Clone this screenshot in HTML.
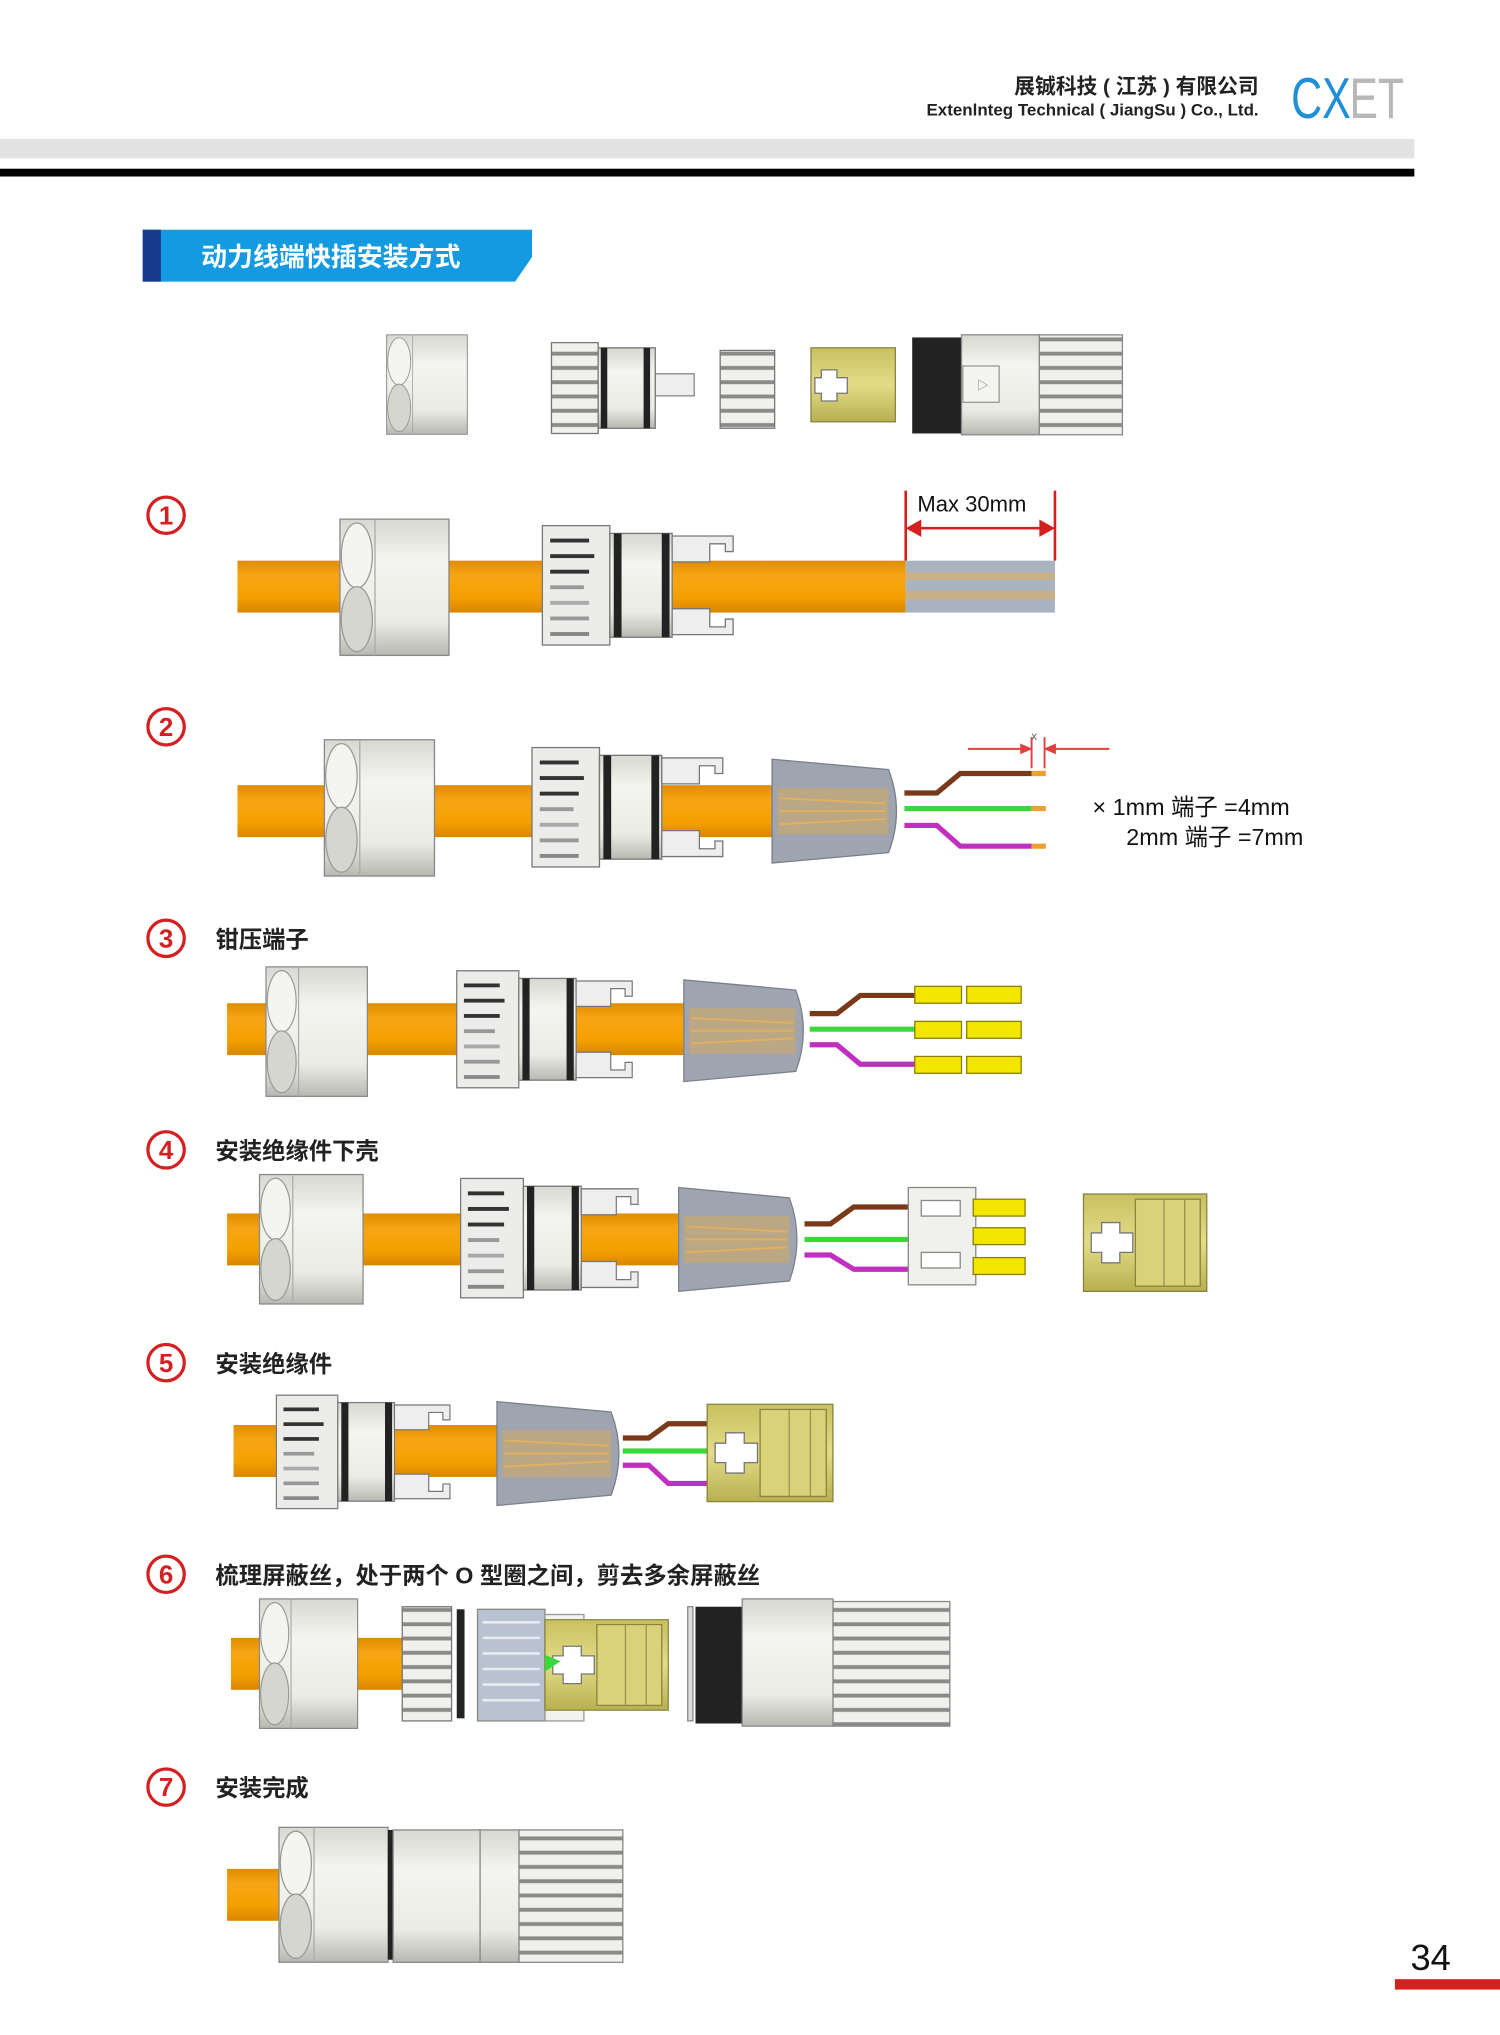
<!DOCTYPE html>
<html><head><meta charset="utf-8"><style>
html,body{margin:0;padding:0;background:#fff;}
svg{display:block;}
text{font-family:"Liberation Sans","Noto Sans CJK SC",sans-serif;}
</style></head><body>
<svg width="1500" height="2035" viewBox="0 0 1156 1568" preserveAspectRatio="none" xmlns="http://www.w3.org/2000/svg">
<defs>
<linearGradient id="mt" x1="0" y1="0" x2="0" y2="1"><stop offset="0" stop-color="#d8d8d2"/><stop offset=".3" stop-color="#f4f4f0"/><stop offset=".75" stop-color="#ecece6"/><stop offset="1" stop-color="#b8b8b2"/></linearGradient>
<linearGradient id="og" x1="0" y1="0" x2="0" y2="1"><stop offset="0" stop-color="#e08c00"/><stop offset=".3" stop-color="#f7a515"/><stop offset=".7" stop-color="#f5a000"/><stop offset="1" stop-color="#d98500"/></linearGradient>
<linearGradient id="yg" x1="0" y1="0" x2="0" y2="1"><stop offset="0" stop-color="#c8c060"/><stop offset=".5" stop-color="#e2dc88"/><stop offset="1" stop-color="#b8b050"/></linearGradient>
<pattern id="rib" width="10" height="11" patternUnits="userSpaceOnUse"><rect width="10" height="11" fill="#f0f0ec"/><rect y="7" width="10" height="3" fill="#8a8a8a"/></pattern>
<g id="nut">
<rect x="0" y="0" width="84" height="105" fill="url(#mt)" stroke="#888"/>
<ellipse cx="13" cy="28" rx="12" ry="25" fill="#f4f4f0" stroke="#999"/>
<ellipse cx="13" cy="77" rx="12" ry="25" fill="#d6d6d0" stroke="#999"/>
<line x1="27" y1="0" x2="27" y2="105" stroke="#aaa"/>
</g>
<g id="gland">
<rect x="0" y="0" width="52" height="92" fill="#ececea" stroke="#777"/>
<rect x="6" y="10" width="30" height="3" fill="#333"/><rect x="6" y="22" width="34" height="3" fill="#333"/><rect x="6" y="34" width="30" height="3" fill="#333"/><rect x="6" y="46" width="26" height="3" fill="#999"/><rect x="6" y="58" width="30" height="3" fill="#aaa"/><rect x="6" y="70" width="30" height="3" fill="#999"/><rect x="6" y="82" width="30" height="3" fill="#888"/>
<rect x="52" y="6" width="48" height="80" fill="url(#mt)" stroke="#777"/>
<rect x="55" y="6" width="6" height="80" fill="#222"/><rect x="92" y="6" width="6" height="80" fill="#222"/>
<path d="M100,8 h47 v12 h-6 v-6 h-12 v14 h-29 z" fill="#eee" stroke="#777"/>
<path d="M100,84 h47 v-12 h-6 v6 h-12 v-14 h-29 z" fill="#eee" stroke="#777"/>
</g>
<g id="cone">
<path d="M0,0 L88,8 Q100,40 88,72 L0,80 Z" fill="#9ea5b0" stroke="#7a808a"/>
<rect x="4" y="22" width="84" height="36" fill="#c8a870" opacity=".7"/>
<path d="M6,30 L86,34 M6,40 L86,40 M6,50 L86,46" stroke="#e0b060" stroke-width="1.5"/>
</g>
<g id="conn">
<rect x="0" y="0" width="95" height="75" fill="url(#yg)" stroke="#8a8440"/>
<rect x="40" y="4" width="50" height="67" fill="#d8d278" stroke="#8a8440"/>
<path d="M14,22 h14 v8 h10 v15 h-10 v8 h-14 v-8 h-8 v-15 h8 z" fill="#fff" stroke="#777"/>
<line x1="62" y1="4" x2="62" y2="71" stroke="#9a9450"/><line x1="78" y1="4" x2="78" y2="71" stroke="#9a9450"/>
</g>
<g id="term"><rect x="0" y="0" width="36" height="13" fill="#f2e600" stroke="#8a8000"/><rect x="40" y="0" width="42" height="13" fill="#f2e600" stroke="#8a8000"/></g>
</defs>

<!-- header -->
<text x="970" y="72" text-anchor="end" font-size="16" font-weight="bold" fill="#222">展铖科技 ( 江苏 ) 有限公司</text>
<text x="970" y="89" text-anchor="end" font-size="12.5" font-weight="bold" fill="#222" textLength="256" lengthAdjust="spacingAndGlyphs">Extenlnteg Technical ( JiangSu ) Co., Ltd.</text>
<text x="995" y="91" font-size="44" fill="#1f8fd8" textLength="46" lengthAdjust="spacingAndGlyphs">CX</text>
<text x="1040" y="91" font-size="44" fill="#b8b8b8" textLength="42" lengthAdjust="spacingAndGlyphs">ET</text>
<rect x="0" y="107" width="1090" height="15" fill="#e2e2e2"/>
<rect x="0" y="130" width="1090" height="6" fill="#000"/>

<!-- title -->
<path d="M110,177 H410 V198 L397,217 H110 Z" fill="#139ae0"/>
<rect x="110" y="177" width="14" height="40" fill="#173a8e"/>
<text x="155" y="205" font-size="20" font-weight="bold" fill="#fff">动力线端快插安装方式</text>

<!-- exploded components -->
<use href="#nut" transform="translate(298,258) scale(0.74,0.73)"/>
<rect x="505" y="288" width="30" height="17" fill="#eee" stroke="#888"/>
<rect x="425" y="264" width="36" height="70" fill="url(#rib)" stroke="#777"/>
<rect x="461" y="268" width="44" height="62" fill="url(#mt)" stroke="#777"/>
<rect x="463" y="268" width="5" height="62" fill="#222"/><rect x="496" y="268" width="5" height="62" fill="#222"/>
<rect x="555" y="270" width="42" height="60" fill="url(#rib)" stroke="#777"/>
<rect x="625" y="268" width="65" height="57" fill="url(#yg)" stroke="#8a8440"/>
<path d="M633,285 h12 v6 h8 v12 h-8 v6 h-12 v-6 h-5 v-12 h5z" fill="#fff" stroke="#777"/>
<rect x="703" y="260" width="38" height="74" fill="#222"/>
<rect x="741" y="258" width="60" height="77" fill="url(#mt)" stroke="#888"/>
<rect x="742" y="282" width="28" height="28" fill="#f4f4f0" stroke="#999"/>
<text x="753" y="300" font-size="9" fill="#777">▷</text>
<rect x="801" y="258" width="64" height="77" fill="url(#rib)" stroke="#888"/>

<!-- step circles -->
<g fill="none" stroke="#d42020" stroke-width="2.5">
<circle cx="128" cy="397" r="14"/><circle cx="128" cy="560" r="14"/><circle cx="128" cy="723" r="14"/><circle cx="128" cy="886" r="14"/><circle cx="128" cy="1050" r="14"/><circle cx="128" cy="1213" r="14"/><circle cx="128" cy="1377" r="14"/>
</g>
<g fill="#d42020" font-size="20" font-weight="bold" text-anchor="middle">
<text x="128" y="404">1</text><text x="128" y="567">2</text><text x="128" y="730">3</text><text x="128" y="893">4</text><text x="128" y="1057">5</text><text x="128" y="1220">6</text><text x="128" y="1384">7</text>
</g>
<g font-size="18" font-weight="bold" fill="#222">
<text x="166" y="730">钳压端子</text>
<text x="166" y="893">安装绝缘件下壳</text>
<text x="166" y="1057">安装绝缘件</text>
<text x="166" y="1220">梳理屏蔽丝，处于两个 O 型圈之间，剪去多余屏蔽丝</text>
<text x="166" y="1384">安装完成</text>
</g>

<!-- row1 -->
<rect x="183" y="432" width="515" height="40" fill="url(#og)"/>
<rect x="698" y="432" width="115" height="40" fill="#a9b3c0"/>
<rect x="698" y="441" width="115" height="6" fill="#c8b088"/><rect x="698" y="455" width="115" height="7" fill="#c8b088"/>
<use href="#nut" transform="translate(262,400)"/>
<use href="#gland" transform="translate(418,405)"/>
<g stroke="#d42020" stroke-width="2" fill="#d42020">
<line x1="698" y1="378" x2="698" y2="432"/><line x1="813" y1="378" x2="813" y2="432"/>
<line x1="706" y1="407" x2="805" y2="407"/>
<path d="M700,407 l9,-5 v10 z"/><path d="M811,407 l-9,-5 v10 z"/>
</g>
<text x="707" y="394" font-size="17" fill="#111">Max 30mm</text>

<!-- row2 -->
<rect x="183" y="605" width="412" height="40" fill="url(#og)"/>
<use href="#nut" transform="translate(250,570) scale(1.01,1)"/>
<use href="#gland" transform="translate(410,576)"/>
<use href="#cone" transform="translate(595,585) scale(1.02,1)"/>
<g fill="none" stroke-width="4">
<path d="M697,611 H722 L740,596 H795" stroke="#7a3a1a"/>
<path d="M697,623 H795" stroke="#3ad83a"/>
<path d="M697,636 H722 L740,652 H795" stroke="#c030c0"/>
<path d="M795,596 H806 M795,623 H806 M795,652 H806" stroke="#f0a030"/>
</g>
<g stroke="#e04040" stroke-width="1.5" fill="#e04040">
<line x1="795" y1="568" x2="795" y2="592"/><line x1="805" y1="568" x2="805" y2="592"/>
<line x1="746" y1="577" x2="793" y2="577"/><line x1="807" y1="577" x2="855" y2="577"/>
<path d="M794,577 l-7,-3 v6z"/><path d="M806,577 l7,-3 v6z"/>
</g>
<text x="797" y="570" font-size="9" fill="#666" text-anchor="middle">x</text>
<text x="842" y="628" font-size="18" fill="#111">×  1mm 端子 =4mm</text>
<text x="868" y="651" font-size="18" fill="#111">2mm 端子 =7mm</text>

<!-- row3 -->
<rect x="175" y="773" width="352" height="40" fill="url(#og)"/>
<use href="#nut" transform="translate(205,745) scale(0.93,0.95)"/>
<use href="#gland" transform="translate(352,748) scale(0.92,0.98)"/>
<use href="#cone" transform="translate(527,755) scale(0.98,0.98)"/>
<g fill="none" stroke-width="4">
<path d="M624,781 H645 L663,767 H705" stroke="#7a3a1a"/>
<path d="M624,793 H705" stroke="#3ad83a"/>
<path d="M624,805 H645 L663,820 H705" stroke="#c030c0"/>
</g>
<use href="#term" transform="translate(705,760)"/>
<use href="#term" transform="translate(705,787)"/>
<use href="#term" transform="translate(705,814)"/>

<!-- row4 -->
<rect x="175" y="935" width="348" height="40" fill="url(#og)"/>
<use href="#nut" transform="translate(200,905) scale(0.95,0.95)"/>
<use href="#gland" transform="translate(355,908) scale(0.93,1)"/>
<use href="#cone" transform="translate(523,915) scale(0.97,1)"/>
<g fill="none" stroke-width="4">
<path d="M620,943 H640 L658,930 H705" stroke="#7a3a1a"/>
<path d="M620,955 H705" stroke="#3ad83a"/>
<path d="M620,967 H640 L658,978 H705" stroke="#c030c0"/>
</g>
<rect x="700" y="915" width="52" height="75" fill="#f0f0ec" stroke="#888"/>
<rect x="710" y="925" width="30" height="12" fill="#fff" stroke="#888"/><rect x="710" y="965" width="30" height="12" fill="#fff" stroke="#888"/>
<rect x="750" y="924" width="40" height="13" fill="#f2e600" stroke="#8a8000"/>
<rect x="750" y="946" width="40" height="13" fill="#f2e600" stroke="#8a8000"/>
<rect x="750" y="969" width="40" height="13" fill="#f2e600" stroke="#8a8000"/>
<use href="#conn" transform="translate(835,920)"/>

<!-- row5 -->
<rect x="180" y="1098" width="203" height="40" fill="url(#og)"/>
<use href="#gland" transform="translate(213,1075) scale(0.91,0.95)"/>
<use href="#cone" transform="translate(383,1080)"/>
<g fill="none" stroke-width="4">
<path d="M480,1108 H500 L515,1097 H550" stroke="#7a3a1a"/>
<path d="M480,1118 H550" stroke="#3ad83a"/>
<path d="M480,1129 H500 L515,1143 H550" stroke="#c030c0"/>
</g>
<use href="#conn" transform="translate(545,1082) scale(1.02,1)"/>

<!-- row6 -->
<rect x="178" y="1262" width="132" height="40" fill="url(#og)"/>
<use href="#nut" transform="translate(200,1232) scale(0.9,0.95)"/>
<rect x="310" y="1238" width="38" height="88" fill="url(#rib)" stroke="#777"/>
<rect x="352" y="1240" width="6" height="84" fill="#222"/>
<rect x="368" y="1240" width="52" height="86" fill="#b8c2d0" stroke="#888"/>
<g stroke="#e8ecf2" stroke-width="2"><line x1="372" y1="1250" x2="416" y2="1250"/><line x1="372" y1="1262" x2="416" y2="1262"/><line x1="372" y1="1274" x2="416" y2="1274"/><line x1="372" y1="1286" x2="416" y2="1286"/><line x1="372" y1="1298" x2="416" y2="1298"/><line x1="372" y1="1310" x2="416" y2="1310"/></g>
<rect x="420" y="1244" width="30" height="82" fill="#f2f2ee" stroke="#999"/>
<use href="#conn" transform="translate(420,1248) scale(1,0.93)"/>
<path d="M420,1275 l12,5 l-12,8z" fill="#3ad83a"/>
<rect x="530" y="1238" width="4" height="88" fill="#ddd" stroke="#888"/>
<rect x="536" y="1238" width="36" height="90" fill="#222"/>
<rect x="572" y="1232" width="70" height="98" fill="url(#mt)" stroke="#888"/>
<rect x="642" y="1234" width="90" height="96" fill="url(#rib)" stroke="#888"/>

<!-- row7 -->
<rect x="175" y="1440" width="45" height="40" fill="url(#og)"/>
<use href="#nut" transform="translate(215,1408) scale(1.0,0.99)"/>
<rect x="299" y="1410" width="4" height="100" fill="#222"/>
<rect x="303" y="1410" width="67" height="102" fill="url(#mt)" stroke="#888"/>
<rect x="370" y="1410" width="30" height="102" fill="url(#mt)" stroke="#888"/>
<rect x="400" y="1410" width="80" height="102" fill="url(#rib)" stroke="#888"/>

<!-- page number -->
<text x="1087" y="1518" font-size="28" fill="#111">34</text>
<rect x="1075" y="1525" width="81" height="8" fill="#d42020"/>
</svg>
</body></html>
